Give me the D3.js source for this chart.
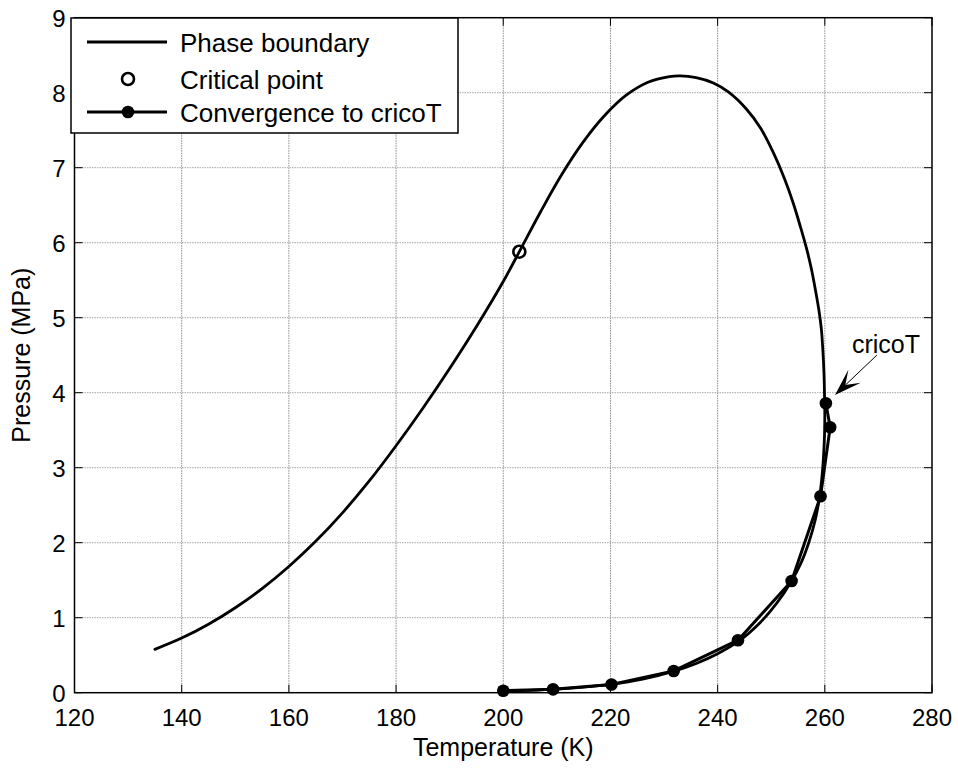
<!DOCTYPE html>
<html>
<head>
<meta charset="utf-8">
<script src="https://cdn.jsdelivr.net/npm/d3@7"></script>
<style>
  html, body { margin: 0; padding: 0; background: #fff; }
  svg { display: block; font-family: "Liberation Sans", Arial, sans-serif; }
</style>
</head>
<body>
<svg id="chart" width="958" height="769"></svg>
<script>
// Phase envelope (temperature in K, pressure in MPa), traced from the low-T end,
// over the top, round the cricondentherm nose and down the lower branch.
const boundaryT = [135.0, 140.0, 145.0, 150.0, 155.0, 160.0, 165.0, 170.0, 175.0, 180.0, 185.0, 190.0,
  195.0, 200.0, 203.0, 207.0, 211.0, 215.0, 219.0, 223.0, 227.0, 231.0, 233.0, 236.0, 239.2, 242.0,
  245.4, 248.0, 250.4, 252.5, 254.1, 255.5, 256.6, 257.5, 258.3, 258.9, 259.35, 259.65, 259.85, 259.95, 260.0,
  259.95, 259.8, 259.5, 259.0, 258.2, 257.0, 255.5, 253.8, 251.0, 248.0, 244.0, 240.0,
  236.0, 232.0, 226.0, 220.0, 215.0, 210.0, 205.0, 200.0];
const boundaryP = [0.578, 0.728, 0.913, 1.133, 1.388, 1.683, 2.018, 2.398, 2.823, 3.293, 3.793, 4.323,
  4.883, 5.483, 5.88, 6.416, 6.918, 7.35, 7.702, 7.97, 8.14, 8.215, 8.225, 8.20, 8.13, 8.01,
  7.78, 7.53, 7.20, 6.85, 6.53, 6.20, 5.92, 5.65, 5.35, 5.10, 4.85, 4.55, 4.25, 3.95, 3.70,
  3.45, 3.20, 2.90, 2.60, 2.30, 2.00, 1.72, 1.49, 1.19, 0.94, 0.69, 0.52,
  0.39, 0.29, 0.18, 0.11, 0.073, 0.048, 0.032, 0.022];

// Critical point
const criticalT = [203.0];
const criticalP = [5.88];

// Iterates of the cricondentherm search
const iterT = [200.0, 209.3, 220.2, 231.8, 243.8, 253.8, 259.2, 261.0, 260.2];
const iterP = [0.027, 0.045, 0.11, 0.29, 0.70, 1.49, 2.62, 3.54, 3.86];

// Axis ticks
const xTicks = [120, 140, 160, 180, 200, 220, 240, 260, 280];
const yTicks = [0, 1, 2, 3, 4, 5, 6, 7, 8, 9];

// Legend entries
const legendLabels = ["Phase boundary", "Critical point", "Convergence to cricoT"];

// Annotation: arrow tail / tip and label anchor, in data units
const noteText = "cricoT";
const noteTail = [269.7, 4.50];
const noteTip = [261.9, 3.97];
const noteLabel = [265.05, 4.53];

const svg = d3.select("#chart");
const plot = { left: 74.5, right: 932, top: 17.7, bottom: 692.7 };

const x = d3.scaleLinear().domain([120, 280]).range([plot.left, plot.right]);
const y = d3.scaleLinear().domain([0, 9]).range([plot.bottom, plot.top]);

// Grid
const grid = svg.append("g").attr("class", "grid");
grid.selectAll("line.gx").data(xTicks.slice(1, -1)).join("line")
  .attr("x1", d => x(d)).attr("x2", d => x(d))
  .attr("y1", plot.top).attr("y2", plot.bottom)
  .attr("stroke", "#8c8c8c").attr("stroke-width", 1).attr("stroke-dasharray", "1.5,1");
grid.selectAll("line.gy").data(yTicks.slice(1, -1)).join("line")
  .attr("y1", d => y(d)).attr("y2", d => y(d))
  .attr("x1", plot.left).attr("x2", plot.right)
  .attr("stroke", "#a6a6a6").attr("stroke-width", 1).attr("stroke-dasharray", "1.5,1");

// Phase boundary
const boundary = boundaryT.map((t, i) => [t, boundaryP[i]]);
svg.append("path")
  .attr("d", d3.line().x(d => x(d[0])).y(d => y(d[1])).curve(d3.curveCatmullRom.alpha(0.5))(boundary))
  .attr("fill", "none").attr("stroke", "#000").attr("stroke-width", 2.8)
  .attr("stroke-linejoin", "round").attr("stroke-linecap", "round");

// Convergence path
const iters = iterT.map((t, i) => [t, iterP[i]]);
svg.append("path")
  .attr("d", d3.line().x(d => x(d[0])).y(d => y(d[1]))(iters))
  .attr("fill", "none").attr("stroke", "#000").attr("stroke-width", 3)
  .attr("stroke-linejoin", "round");
svg.append("g").selectAll("circle").data(iters).join("circle")
  .attr("cx", d => x(d[0])).attr("cy", d => y(d[1])).attr("r", 6.3)
  .attr("fill", "#000");

// Critical point
svg.append("g").selectAll("circle").data(criticalT.map((t, i) => [t, criticalP[i]])).join("circle")
  .attr("cx", d => x(d[0])).attr("cy", d => y(d[1])).attr("r", 6)
  .attr("fill", "none").attr("stroke", "#000").attr("stroke-width", 2.6);

// Axes box
svg.append("rect")
  .attr("x", plot.left).attr("y", plot.top)
  .attr("width", plot.right - plot.left).attr("height", plot.bottom - plot.top)
  .attr("fill", "none").attr("stroke", "#000").attr("stroke-width", 1.5);

// Inward ticks on all four sides
const tickLen = 8;
const ticks = svg.append("g").attr("stroke", "#000").attr("stroke-width", 1);
xTicks.forEach(t => {
  ticks.append("line").attr("x1", x(t)).attr("x2", x(t)).attr("y1", plot.bottom).attr("y2", plot.bottom - tickLen);
  ticks.append("line").attr("x1", x(t)).attr("x2", x(t)).attr("y1", plot.top).attr("y2", plot.top + tickLen);
});
yTicks.forEach(v => {
  ticks.append("line").attr("y1", y(v)).attr("y2", y(v)).attr("x1", plot.left).attr("x2", plot.left + tickLen);
  ticks.append("line").attr("y1", y(v)).attr("y2", y(v)).attr("x1", plot.right).attr("x2", plot.right - tickLen);
});

// Tick labels
svg.append("g").selectAll("text").data(xTicks).join("text")
  .attr("x", d => x(d)).attr("y", plot.bottom + 33.5)
  .attr("text-anchor", "middle").attr("font-size", 24).attr("fill", "#000")
  .text(d => d);
svg.append("g").selectAll("text").data(yTicks).join("text")
  .attr("x", plot.left - 9).attr("y", d => y(d) + 9.5)
  .attr("text-anchor", "end").attr("font-size", 24).attr("fill", "#000")
  .text(d => d);

// Axis titles
svg.append("text")
  .attr("x", (plot.left + plot.right) / 2).attr("y", 756)
  .attr("text-anchor", "middle").attr("font-size", 25).attr("fill", "#000")
  .text("Temperature (K)");
svg.append("text")
  .attr("transform", `translate(30,${(plot.top + plot.bottom) / 2}) rotate(-90)`)
  .attr("text-anchor", "middle").attr("font-size", 25).attr("fill", "#000")
  .text("Pressure (MPa)");

// Legend
const lg = svg.append("g").attr("class", "legend");
lg.append("rect").attr("x", 71).attr("y", 18).attr("width", 387).attr("height", 115)
  .attr("fill", "#fff").attr("stroke", "#000").attr("stroke-width", 1.5);
const rowY = [42, 79, 112];
lg.append("line").attr("x1", 87).attr("x2", 167).attr("y1", rowY[0]).attr("y2", rowY[0])
  .attr("stroke", "#000").attr("stroke-width", 2.8);
lg.append("circle").attr("cx", 128).attr("cy", rowY[1]).attr("r", 6)
  .attr("fill", "none").attr("stroke", "#000").attr("stroke-width", 2.6);
lg.append("line").attr("x1", 87).attr("x2", 167).attr("y1", rowY[2]).attr("y2", rowY[2])
  .attr("stroke", "#000").attr("stroke-width", 3);
lg.append("circle").attr("cx", 128).attr("cy", rowY[2]).attr("r", 6.3).attr("fill", "#000");
lg.selectAll("text").data(legendLabels).join("text")
  .attr("x", 180).attr("y", (d, i) => rowY[i] + 9.5)
  .attr("font-size", 26).attr("fill", "#000")
  .text(d => d);

// Text arrow pointing at the cricondentherm
const tail = [x(noteTail[0]), y(noteTail[1])];
const tip = [x(noteTip[0]), y(noteTip[1])];
const ang = Math.atan2(tip[1] - tail[1], tip[0] - tail[0]);
const headLen = 27, headHalf = 9, notch = 13;
const ux = Math.cos(ang), uy = Math.sin(ang);
const px = -uy, py = ux;
const back = [tip[0] - ux * headLen, tip[1] - uy * headLen];
const mid = [tip[0] - ux * notch * 1.1, tip[1] - uy * notch * 1.1];
svg.append("line")
  .attr("x1", tail[0]).attr("y1", tail[1]).attr("x2", mid[0]).attr("y2", mid[1])
  .attr("stroke", "#000").attr("stroke-width", 1);
svg.append("path")
  .attr("d", `M${tip[0]},${tip[1]} L${back[0] + px * headHalf},${back[1] + py * headHalf} L${mid[0]},${mid[1]} L${back[0] - px * headHalf},${back[1] - py * headHalf} Z`)
  .attr("fill", "#000");
svg.append("text")
  .attr("x", x(noteLabel[0])).attr("y", y(noteLabel[1]))
  .attr("font-size", 25).attr("fill", "#000")
  .text(noteText);
</script>
</body>
</html>
